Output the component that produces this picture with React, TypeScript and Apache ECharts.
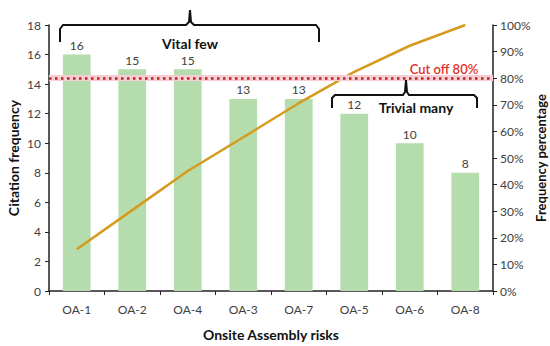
import React, { useEffect, useRef } from "react";
import * as echarts from "echarts";

const categories = ["OA-1", "OA-2", "OA-4", "OA-3", "OA-7", "OA-5", "OA-6", "OA-8"];
const frequency = [16, 15, 15, 13, 13, 12, 10, 8];
const cumulativePct = [15.7, 30.4, 45.1, 57.8, 70.6, 82.4, 92.2, 100];
const cutOff = 80;
const FONT = "Lato, 'Open Sans', sans-serif";

export default function App() {
  const ref = useRef<HTMLDivElement>(null);
  useEffect(() => {
    if (!ref.current) return;
    const chart = echarts.init(ref.current, null, { renderer: "svg" });
    const textCol = "#404040";
    chart.setOption({
      animation: false,
      textStyle: { fontFamily: FONT },
      grid: { left: 49, right: 57, top: 25, bottom: 55, containLabel: false, outerBoundsMode: "none" },
      xAxis: {
        type: "category",
        data: categories,
        name: "Onsite Assembly risks",
        nameLocation: "middle",
        nameGap: 36,
        nameTextStyle: { fontSize: 14, fontWeight: "bold", color: "#111", fontFamily: FONT },
        axisLine: { lineStyle: { color: "#222", width: 1.5 } },
        axisTick: { show: true, alignWithLabel: false, length: 4, lineStyle: { color: "#222" } },
        axisLabel: { fontSize: 12, color: textCol, margin: 12, fontFamily: FONT },
      },
      yAxis: [
        {
          type: "value",
          min: 0,
          max: 18,
          interval: 2,
          name: "Citation frequency",
          nameLocation: "middle",
          nameRotate: 90,
          nameGap: 29,
          nameMoveOverlap: false,
          nameTextStyle: { fontSize: 14, fontWeight: "bold", color: "#111", fontFamily: FONT },
          axisLine: { show: true, lineStyle: { color: "#222", width: 1.5 } },
          axisTick: { show: true, length: 4, lineStyle: { color: "#222" } },
          axisLabel: { fontSize: 12, color: textCol, margin: 8, fontFamily: FONT },
          splitLine: { show: false },
        },
        {
          type: "value",
          min: 0,
          max: 100,
          interval: 10,
          name: "Frequency percentage",
          nameLocation: "middle",
          nameRotate: 90,
          nameGap: 41,
          nameMoveOverlap: false,
          nameTextStyle: { fontSize: 13, fontWeight: "bold", color: "#111", fontFamily: FONT },
          axisLine: { show: true, lineStyle: { color: "#222", width: 1.5 } },
          axisTick: { show: true, length: 4, lineStyle: { color: "#222" } },
          axisLabel: { fontSize: 12, color: textCol, margin: 7, formatter: "{value}%", fontFamily: FONT },
          splitLine: { show: false },
        },
      ],
      series: [
        {
          type: "bar",
          data: frequency,
          barWidth: "50%",
          itemStyle: { color: "#b5dcad" },
          label: { show: true, position: "top", fontSize: 12, color: textCol, distance: 3, fontFamily: FONT },
        },
        {
          type: "line",
          yAxisIndex: 1,
          data: cumulativePct,
          showSymbol: false,
          symbol: "none",
          lineStyle: { color: "#d69a1c", width: 2.5 },
          markLine: {
            silent: true,
            symbol: "none",
            label: { show: false },
            data: [
              { yAxis: cutOff, lineStyle: { color: "#f9ccd4", width: 6, type: "solid" } },
              { yAxis: cutOff, lineStyle: { color: "#b0281e", width: 2.5, type: [2.5, 3.5] } },
            ],
          },
        },
      ],
      graphic: [
        {
          type: "polyline",
          shape: {
            points: [[60, 42], [60, 29], [63, 25], [186, 25], [189, 22], [190, 10], [191, 22], [194, 25], [316, 25], [319, 29], [319, 42]],
          },
          style: { stroke: "#111", lineWidth: 2, fill: null },
          z: 100,
        },
        {
          type: "text",
          x: 190,
          y: 43,
          style: { text: "Vital few", fontSize: 14, fontWeight: "bold", fill: "#111", align: "center", verticalAlign: "middle", fontFamily: FONT },
          z: 100,
        },
        {
          type: "polyline",
          shape: {
            points: [[332, 108], [332, 98], [335, 95], [403, 95], [405, 92], [406, 80], [407, 92], [409, 95], [474, 95], [477, 98], [477, 108]],
          },
          style: { stroke: "#111", lineWidth: 2, fill: null },
          z: 100,
        },
        {
          type: "text",
          x: 416,
          y: 107,
          style: { text: "Trivial many", fontSize: 14, fontWeight: "bold", fill: "#111", align: "center", verticalAlign: "middle", fontFamily: FONT },
          z: 100,
        },
        {
          type: "text",
          x: 444,
          y: 69,
          style: { text: "Cut off 80%", fontSize: 13, fontWeight: 600, fill: "#e0302a", align: "center", verticalAlign: "middle", fontFamily: FONT },
          z: 100,
        },
      ],
    });
    return () => chart.dispose();
  }, []);
  return <div ref={ref} style={{ width: 550, height: 346, position: "absolute", left: 0, top: 0, background: "#fff" }} />;
}
